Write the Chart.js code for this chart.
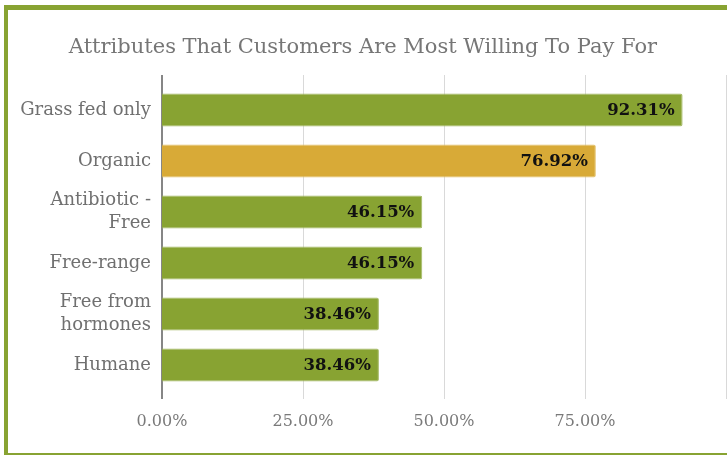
<!DOCTYPE html>
<html lang="en">
<head>
<meta charset="UTF-8" />
<title>Attributes That Customers Are Most Willing To Pay For</title>
<script src="https://cdn.jsdelivr.net/npm/chart.js"></script>
<style>
  html, body { margin: 0; padding: 0; background: #fff; overflow: hidden; }
  #frame {
    position: absolute; left: 4px; top: 5px; width: 740px; height: 443px;
    border-left: 4px solid #88a332; border-top: 5px solid #88a332; border-bottom: 2px solid #88a332;
  }
  #chart { position: absolute; left: 0; top: 0; }
</style>
</head>
<body>
<div id="frame"></div>
<canvas id="chart" width="727" height="455"></canvas>
<script>
// survey results, % of customers
const attributes = ['Grass fed only', 'Organic', ['Antibiotic -', 'Free'], 'Free-range', ['Free from', 'hormones'], 'Humane'];
const shares = [92.31, 76.92, 46.15, 46.15, 38.46, 38.46];
const barColors = ['#88a332', '#d8aa37', '#88a332', '#88a332', '#88a332', '#88a332'];
const edgeColors = ['#a3b965', '#e3c068', '#a3b965', '#a3b965', '#a3b965', '#a3b965'];
const xTicks = [0, 25, 50, 75, 100];

const SERIF = "'DejaVu Serif', serif";

// vertical gridlines + axis line run a bit past the bars, like the original sheet
const gridPlugin = {
  id: 'gridPlugin',
  beforeDatasetsDraw(chart) {
    const ctx = chart.ctx, x = chart.scales.x;
    const top = 75, bottom = 399;
    ctx.save();
    xTicks.forEach(v => {
      const px = Math.round(x.getPixelForValue(v)) + 0.5;
      ctx.strokeStyle = v === 0 ? '#868686' : '#d9d9d9';
      ctx.lineWidth = v === 0 ? 2 : 1;
      ctx.beginPath();
      ctx.moveTo(v === 0 ? px - 0.5 : px, top);
      ctx.lineTo(v === 0 ? px - 0.5 : px, bottom);
      ctx.stroke();
    });
    ctx.restore();
  }
};

const valueLabels = {
  id: 'valueLabels',
  afterDatasetsDraw(chart) {
    const ctx = chart.ctx;
    const meta = chart.getDatasetMeta(0);
    ctx.save();
    ctx.font = "bold 16.5px " + SERIF;
    ctx.fillStyle = '#111';
    ctx.textAlign = 'right';
    ctx.textBaseline = 'middle';
    meta.data.forEach((bar, i) => {
      ctx.fillText(shares[i].toFixed(2) + '%', bar.x - 8, bar.y + 1);
    });
    ctx.restore();
  }
};

new Chart(document.getElementById('chart'), {
  type: 'bar',
  data: {
    labels: attributes,
    datasets: [{
      data: shares,
      backgroundColor: barColors,
      borderColor: edgeColors,
      borderWidth: 1,
      borderRadius: 2,
      borderSkipped: 'start',
      barPercentage: 0.65,
      categoryPercentage: 1
    }]
  },
  options: {
    indexAxis: 'y',
    responsive: false,
    animation: false,
    layout: { padding: { left: 0, right: 1, top: 0, bottom: 0 } },
    plugins: {
      legend: { display: false },
      tooltip: { enabled: false },
      title: {
        display: true,
        text: 'Attributes That Customers Are Most Willing To Pay For',
        color: '#767676',
        font: { family: SERIF, size: 21, weight: 'normal', lineHeight: 1.2 },
        padding: { top: 34.5, bottom: 24.8 }
      }
    },
    scales: {
      x: {
        min: 0, max: 100,
        afterFit(scale) { scale.height = 64.5; },
        afterBuildTicks(scale) { scale.ticks = xTicks.map(v => ({ value: v })); },
        // tick marks hidden but their length keeps the labels clear of the bars
        grid: { display: false, drawTicks: true, tickLength: 22 },
        border: { display: false },
        ticks: {
          padding: 0,
          color: '#7a7a7a',
          font: { family: SERIF, size: 16 },
          callback: v => v < 100 ? v.toFixed(2) + '%' : ''
        }
      },
      y: {
        afterFit(scale) { scale.width = 162; },
        grid: { display: false, drawTicks: false },
        border: { display: false },
        ticks: {
          padding: 11,
          color: '#707070',
          font: { family: SERIF, size: 18, lineHeight: 1.25 }
        }
      }
    }
  },
  plugins: [gridPlugin, valueLabels]
});
</script>
</body>
</html>
